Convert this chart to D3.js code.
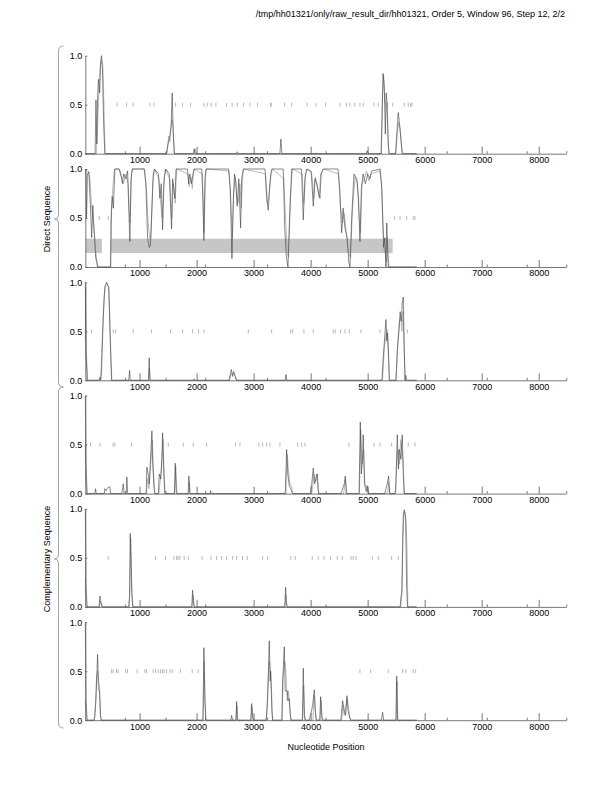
<!DOCTYPE html>
<html>
<head>
<meta charset="utf-8">
<script src="https://cdn.jsdelivr.net/npm/d3@7"></script>
<style>
  body { margin: 0; background: #fff; }
  svg { display: block; }
  text { font-family: "Liberation Sans", Arial, Helvetica, sans-serif; font-size: 9px; fill: #000; }
  .axis path, .axis line { stroke: #555; stroke-width: 0.8; }
  .axis text { fill: #000; }
</style>
</head>
<body>
<div id="chart"></div>
<script>
// ---- data ----
const titleText = "/tmp/hh01321/only/raw_result_dir/hh01321, Order 5, Window 96, Step 12, 2/2";
const xDomain = [48, 8484];
const xTickValues = [1000, 2000, 3000, 4000, 5000, 6000, 7000, 8000];
const xMinorTicks = [742, 1456, 2150, 3236, 4263, 6386, 7088, 7789, 8484];
const yTickValues = [0, 0.5, 1];
const groupLabels = ["Direct Sequence", "Complementary Sequence"];

// panel 1
const p1Dark = [[48,0],[220,0],[235,0.55],[250,0.1],[265,0.6],[280,0.76],[300,0.62],[318,0.95],[333,1.0],[350,0.85],[370,0.3],[391,0],[1470,0],[1500,0.1],[1530,0.18],[1555,0.3],[1572,0.62],[1590,0.2],[1610,0],[1940,0],[1959,0.05],[1975,0],[2700,0],[2713,0.02],[2730,0],[3460,0],[3479,0.15],[3495,0],[4975,0],[4993,0.03],[5010,0],[5235,0],[5250,0.3],[5270,0.82],[5290,0.7],[5310,0.2],[5325,0.62],[5344,0.5],[5360,0.1],[5379,0],[5490,0],[5510,0.2],[5537,0.42],[5560,0.3],[5590,0.1],[5607,0],[5860,0]];
const p1Light = [[48,0],[240,0],[265,0.3],[290,0.7],[310,0.9],[335,0.95],[355,0.9],[375,0.5],[395,0],[1480,0],[1510,0.18],[1530,0.12],[1565,0.35],[1585,0.3],[1610,0],[1960,0],[1975,0.05],[1990,0],[5240,0],[5260,0.6],[5280,0.8],[5300,0.55],[5320,0.5],[5340,0.4],[5370,0],[5495,0],[5520,0.2],[5545,0.32],[5570,0.25],[5600,0.05],[5620,0],[5860,0]];
const p1Marks = [607,772,888,1181,1251,1632,1754,1895,2128,2186,2256,2339,2526,2624,2712,2825,2935,3070,3298,3309,3544,3667,3940,4093,4263,4514,4632,4689,4777,4865,4923,5111,5186,5344,5439,5642,5712,5754,5777];

// panel 2
const p2Dark = [[48,1.0],[60,0.97],[70,0.5],[85,0.95],[110,0.97],[140,0.6],[160,0.3],[180,0.63],[200,0.4],[230,0.1],[263,0],[490,0],[500,0.5],[520,0.72],[540,0.6],[567,1.0],[640,1.0],[680,0.92],[700,0.85],[720,0.95],[760,0.9],[790,0.98],[810,0.6],[830,0.26],[850,0.9],[870,1.0],[1080,1.0],[1110,0.85],[1140,0.3],[1170,0.2],[1190,0.22],[1210,0.5],[1240,0.95],[1260,1.0],[1330,0.95],[1356,0.7],[1380,0.85],[1404,0.38],[1430,0.9],[1460,1.0],[1520,0.95],[1545,0.6],[1561,0.39],[1580,0.9],[1600,0.8],[1619,0.7],[1640,1.0],[1840,1.0],[1860,0.85],[1880,0.95],[1910,0.85],[1937,0.95],[1960,1.0],[2090,1.0],[2110,0.7],[2128,0.27],[2145,0.9],[2165,1.0],[2560,1.0],[2590,0.8],[2620,0.085],[2645,0.7],[2665,0.95],[2690,0.85],[2712,0.62],[2740,0.9],[2772,0.4],[2790,0.9],[2820,1.0],[3200,1.0],[3230,0.7],[3256,0.58],[3280,0.8],[3300,0.95],[3320,1.0],[3520,1.0],[3545,0.4],[3575,0.1],[3602,0],[3630,0.5],[3667,1.0],[3840,1.0],[3871,0.48],[3900,0.9],[3930,1.0],[4010,0.98],[4046,0.62],[4075,0.9],[4110,0.85],[4140,0.75],[4163,0.7],[4185,0.95],[4220,1.0],[4480,1.0],[4510,0.8],[4544,0.35],[4570,0.6],[4602,0.4],[4640,0.3],[4670,0.05],[4690,0],[4720,0.5],[4760,0.95],[4810,0.9],[4840,0.7],[4865,0.26],[4890,0.8],[4920,0.95],[4960,0.85],[5000,0.95],[5040,0.9],[5070,0.98],[5220,1.0],[5250,0.8],[5280,0.2],[5300,0.3],[5321,0],[5335,0.45],[5350,0.2],[5362,0],[5860,0]];
const p2Light = [[48,0.95],[70,1.0],[100,0.98],[130,0.9],[160,0.6],[190,0.45],[215,0.3],[240,0.1],[270,0],[495,0],[510,0.6],[535,0.85],[560,1.0],[650,1.0],[690,0.9],[720,0.85],[750,0.95],[800,0.85],[830,0.45],[860,0.95],[880,1.0],[1090,1.0],[1120,0.8],[1150,0.45],[1180,0.28],[1200,0.3],[1230,0.85],[1260,1.0],[1340,0.9],[1370,0.65],[1395,0.5],[1420,0.8],[1450,1.0],[1530,0.9],[1565,0.5],[1590,0.85],[1625,0.65],[1650,1.0],[1850,0.95],[1870,0.82],[1900,0.92],[1925,0.8],[1950,1.0],[2100,0.95],[2130,0.35],[2160,0.95],[2180,1.0],[2570,0.98],[2600,0.7],[2625,0.3],[2650,0.75],[2680,0.92],[2705,0.7],[2730,0.65],[2760,0.85],[2785,0.6],[2810,0.95],[2830,1.0],[3210,0.95],[3240,0.65],[3265,0.7],[3295,0.9],[3330,1.0],[3530,0.9],[3560,0.5],[3590,0.15],[3615,0.1],[3645,0.7],[3680,1.0],[3850,0.95],[3880,0.65],[3910,0.95],[3940,1.0],[4020,0.95],[4055,0.7],[4085,0.92],[4120,0.8],[4150,0.72],[4175,0.95],[4230,1.0],[4490,0.95],[4525,0.6],[4560,0.45],[4590,0.55],[4625,0.35],[4660,0.15],[4700,0.1],[4735,0.6],[4780,0.92],[4820,0.85],[4850,0.5],[4875,0.35],[4900,0.85],[4940,0.9],[4980,0.98],[5020,0.88],[5060,0.95],[5210,0.98],[5240,0.85],[5270,0.4],[5290,0.15],[5310,0.2],[5330,0.05],[5345,0.3],[5360,0.1],[5375,0],[5860,0]];
const p2Marks = [292,450,5467,5567,5684,5800,5830];
const p2Bands = [[58,339],[496,5439]];
const p2BandRange = [0.143, 0.289];

// panel 3
const p3Dark = [[48,1.0],[60,0.3],[81,0],[290,0],[304,0.03],[318,0],[333,0.1],[360,0.6],[391,0.95],[410,0.98],[421,1.0],[440,0.97],[461,0.95],[480,0.5],[509,0],[810,0],[824,0.1],[838,0],[1155,0],[1169,0.23],[1183,0],[1940,0],[1953,0.015],[1966,0],[2570,0],[2590,0.06],[2610,0.11],[2630,0.04],[2650,0.09],[2670,0.05],[2702,0],[3555,0],[3567,0.06],[3580,0],[5250,0],[5275,0.25],[5300,0.45],[5321,0.62],[5335,0.4],[5350,0.48],[5365,0.3],[5379,0],[5495,0],[5520,0.3],[5549,0.5],[5570,0.7],[5590,0.6],[5605,0.78],[5625,0.85],[5640,0.4],[5654,0],[5668,0.05],[5685,0],[5860,0]];
const p3Light = [[48,0.4],[55,0.95],[65,0.3],[90,0],[300,0],[320,0.05],[345,0.4],[375,0.85],[400,0.97],[430,0.99],[455,0.95],[475,0.7],[500,0.2],[515,0],[1160,0],[1172,0.12],[1185,0],[2580,0],[2600,0.05],[2620,0.07],[2640,0.06],[2660,0.07],[2690,0.02],[2710,0],[5260,0],[5290,0.3],[5315,0.45],[5340,0.5],[5360,0.3],[5385,0],[5500,0],[5530,0.4],[5555,0.6],[5580,0.65],[5600,0.5],[5620,0.7],[5640,0.3],[5660,0],[5860,0]];
const p3Marks = [158,537,579,888,1210,1544,1754,1930,2035,2128,2906,3316,3649,3684,3882,4046,4397,4432,4526,4602,4678,4882,5216,5344,5695];

// panel 4
const p4Dark = [[48,1.0],[60,0.3],[81,0],[215,0],[228,0.05],[240,0],[380,0],[391,0.05],[410,0.03],[440,0.06],[479,0.07],[490,0],[690,0],[702,0.06],[715,0.1],[728,0],[765,0],[777,0.17],[790,0],[1115,0],[1128,0.27],[1150,0.2],[1170,0.1],[1200,0.45],[1216,0.64],[1230,0.3],[1255,0.05],[1270,0],[1330,0],[1345,0.2],[1370,0.15],[1390,0.35],[1404,0.62],[1420,0.3],[1440,0],[1610,0],[1625,0.31],[1645,0],[1850,0],[1865,0.18],[1880,0],[2235,0],[2245,0.03],[2255,0],[3555,0],[3579,0.45],[3600,0.2],[3625,0.08],[3650,0.05],[3680,0],[3995,0],[4006,0.05],[4020,0.1],[4046,0.26],[4070,0.1],[4095,0.15],[4116,0.2],[4140,0],[4530,0],[4544,0.02],[4590,0.1],[4608,0.18],[4625,0],[4850,0],[4871,0.73],[4890,0.2],[4910,0.35],[4923,0.6],[4945,0.1],[4975,0.02],[4993,0.08],[5010,0],[5300,0],[5321,0.05],[5345,0.1],[5368,0.18],[5385,0],[5480,0],[5491,0.05],[5520,0.6],[5540,0.25],[5555,0.45],[5584,0.35],[5607,0.6],[5625,0.2],[5640,0],[5860,0]];
const p4Light = [[48,0.5],[55,0.1],[70,0],[1120,0],[1140,0.15],[1165,0.05],[1195,0.3],[1225,0.55],[1245,0.2],[1265,0],[1340,0],[1360,0.12],[1385,0.25],[1410,0.55],[1430,0.2],[1450,0],[1615,0],[1635,0.28],[1655,0],[1860,0],[1875,0.12],[1890,0],[3565,0],[3590,0.4],[3610,0.25],[3635,0.1],[3665,0.07],[3690,0],[4020,0],[4040,0.1],[4060,0.2],[4080,0.12],[4105,0.2],[4130,0.05],[4145,0],[4580,0],[4600,0.1],[4615,0.15],[4635,0],[4855,0],[4880,0.65],[4900,0.3],[4930,0.45],[4950,0.1],[5000,0.05],[5015,0],[5350,0],[5370,0.12],[5390,0],[5490,0],[5515,0.35],[5535,0.45],[5560,0.3],[5580,0.55],[5600,0.45],[5620,0.35],[5645,0],[5860,0]];
const p4Marks = [140,304,537,567,860,1503,1765,1940,2175,2684,2760,3093,3158,3228,3286,3462,3772,3842,3900,4672,5111,5216,5421,5712,5830];

// panel 5
const p5Dark = [[48,1.0],[60,0.2],[81,0],[290,0],[304,0.11],[318,0.06],[335,0.02],[350,0],[810,0],[824,0.1],[836,0.75],[850,0.5],[862,0.15],[880,0],[1915,0],[1930,0.17],[1945,0.05],[1960,0],[3545,0],[3561,0.2],[3575,0.05],[3590,0],[5570,0],[5584,0.1],[5602,0.15],[5625,0.95],[5642,0.99],[5666,0.9],[5684,0.2],[5700,0],[5860,0]];
const p5Light = [[48,0.3],[60,0],[295,0],[310,0.06],[325,0.03],[340,0],[815,0],[830,0.2],[845,0.7],[860,0.3],[875,0.05],[890,0],[1920,0],[1938,0.12],[1955,0],[3550,0],[3565,0.12],[3580,0],[5580,0],[5595,0.1],[5615,0.7],[5635,0.95],[5655,0.97],[5675,0.85],[5690,0.6],[5705,0],[5860,0]];
const p5Marks = [450,1281,1456,1602,1649,1677,1707,1782,1853,2098,2251,2351,2439,2526,2632,2702,2807,2888,3158,3246,3654,3730,4028,4133,4233,4351,4467,4554,4707,4747,4795,5081,5186,5421,5537];

// panel 6
const p6Dark = [[48,1.0],[60,0.2],[81,0],[200,0],[216,0.05],[235,0.2],[263,0.67],[280,0.4],[298,0.3],[315,0.05],[330,0],[2110,0],[2128,0.74],[2145,0.2],[2160,0],[2600,0],[2614,0.05],[2630,0],[2690,0],[2702,0.19],[2715,0],[2950,0],[2965,0.17],[2980,0.05],[2995,0],[3215,0],[3228,0.05],[3245,0.2],[3275,0.81],[3290,0.4],[3300,0.5],[3320,0.1],[3335,0],[3495,0],[3509,0.4],[3538,0.75],[3555,0.3],[3590,0.3],[3605,0.2],[3625,0.22],[3645,0.05],[3660,0],[3855,0],[3871,0.53],[3890,0.05],[3910,0],[3975,0],[3988,0.03],[4035,0.15],[4064,0.31],[4085,0.08],[4100,0],[4160,0],[4175,0.24],[4195,0.05],[4210,0],[4530,0],[4561,0.2],[4590,0.1],[4615,0.05],[4637,0.25],[4655,0.1],[4675,0.05],[4700,0],[5240,0],[5263,0.08],[5280,0],[5495,0],[5509,0.45],[5525,0],[5860,0]];
const p6Light = [[48,0.2],[60,0],[210,0],[235,0.3],[246,0.45],[263,0.5],[280,0.3],[298,0.3],[312,0.05],[325,0],[2115,0],[2135,0.6],[2150,0.2],[2165,0],[2690,0],[2710,0.15],[2725,0],[2955,0],[2972,0.14],[2990,0],[3225,0],[3257,0.45],[3280,0.6],[3300,0.45],[3315,0.3],[3330,0],[3500,0],[3520,0.45],[3545,0.6],[3565,0.5],[3590,0.2],[3610,0.3],[3630,0.15],[3650,0],[3860,0],[3878,0.35],[3895,0],[4040,0],[4060,0.25],[4080,0.1],[4095,0],[4165,0],[4185,0.2],[4200,0],[4545,0],[4565,0.15],[4590,0.05],[4640,0.22],[4660,0.15],[4690,0.02],[4710,0],[5500,0],[5515,0.4],[5530,0],[5860,0]];
const p6Marks = [509,537,596,625,754,789,958,1093,1123,1239,1281,1327,1368,1404,1432,1474,1532,1572,1719,1923,2028,4865,5053,5362,5614,5672,5800,5842];

const panels = [
    { dark: p1Dark, light: p1Light, marks: p1Marks },
    { dark: p2Dark, light: p2Light, marks: p2Marks, bands: p2Bands },
    { dark: p3Dark, light: p3Light, marks: p3Marks },
    { dark: p4Dark, light: p4Light, marks: p4Marks },
    { dark: p5Dark, light: p5Light, marks: p5Marks },
    { dark: p6Dark, light: p6Light, marks: p6Marks }
];

// ---- layout ----
const width = 612, height = 792;
const left = 85.3, right = 566.3;
const firstTop = 55.7, panelStep = 113.3, panelH = 98;

const svg = d3.select('#chart').append('svg')
    .attr('width', width)
    .attr('height', height);

// title
svg.append('text')
    .attr('x', 565)
    .attr('y', 17)
    .attr('text-anchor', 'end')
    .text(titleText);

const x = d3.scaleLinear().domain(xDomain).range([left, right]);

const line = (yScale) => d3.line()
    .x(d => x(d[0]))
    .y(d => yScale(d[1]));

panels.forEach((p, i) => {
    const top = firstTop + i * panelStep;
    const y = d3.scaleLinear().domain([0, 1]).range([top + panelH, top]);
    const g = svg.append('g').attr('class', 'panel');

    // shaded bands (panel 2)
    if (p.bands) {
        g.selectAll('rect.band')
            .data(p.bands)
            .join('rect')
            .attr('class', 'band')
            .attr('x', d => x(d[0]))
            .attr('width', d => x(d[1]) - x(d[0]))
            .attr('y', y(p2BandRange[1]))
            .attr('height', y(p2BandRange[0]) - y(p2BandRange[1]))
            .attr('fill', '#c6c6c6');
    }

    // marks on the 0.5 row
    g.selectAll('line.mark')
        .data(p.marks)
        .join('line')
        .attr('class', 'mark')
        .attr('x1', d => x(d)).attr('x2', d => x(d))
        .attr('y1', y(0.5) - 2).attr('y2', y(0.5) + 2)
        .attr('stroke', '#9a9a9a')
        .attr('stroke-width', 0.7);

    g.append('path')
        .datum(p.light)
        .attr('d', line(y))
        .attr('fill', 'none')
        .attr('stroke', '#aaaaaa')
        .attr('stroke-width', 0.8);

    g.append('path')
        .datum(p.dark)
        .attr('d', line(y))
        .attr('fill', 'none')
        .attr('stroke', '#3a3a3a')
        .attr('stroke-width', 0.6);

    // x axis: ticks point up, labels below
    const xAxisG = g.append('g')
        .attr('class', 'axis x-axis')
        .attr('transform', `translate(0, ${top + panelH})`)
        .call(d3.axisBottom(x)
            .tickValues(xTickValues)
            .tickSizeInner(-7)
            .tickSizeOuter(0)
            .tickPadding(3)
            .tickFormat(d3.format('d')));
    xAxisG.selectAll('text').attr('font-size', 9).attr('font-family', '"Liberation Sans", Arial, sans-serif');

    g.append('g')
        .attr('class', 'axis x-minor')
        .attr('transform', `translate(0, ${top + panelH})`)
        .call(d3.axisBottom(x)
            .tickValues(xMinorTicks)
            .tickSizeInner(-2.5)
            .tickSizeOuter(0)
            .tickFormat(''))
        .select('.domain').remove();

    // y axis
    const yAxisG = g.append('g')
        .attr('class', 'axis y-axis')
        .attr('transform', `translate(${left}, 0)`)
        .call(d3.axisLeft(y)
            .tickValues(yTickValues)
            .tickSizeInner(-2)
            .tickSizeOuter(0)
            .tickPadding(3)
            .tickFormat(d3.format('.1f')));
    yAxisG.selectAll('text').attr('font-size', 9).attr('font-family', '"Liberation Sans", Arial, sans-serif');
});

// group braces and labels
const braces = [
    { top: 46, bottom: 387, tip: 219 },
    { top: 387, bottom: 728, tip: 559 }
];
braces.forEach((b, i) => {
    const bx = 58.5, r = 5;
    const path = `M ${bx + r},${b.top} Q ${bx},${b.top} ${bx},${b.top + r}
        L ${bx},${b.tip - 4} Q ${bx},${b.tip} ${bx - 4},${b.tip}
        Q ${bx},${b.tip} ${bx},${b.tip + 4}
        L ${bx},${b.bottom - r} Q ${bx},${b.bottom} ${bx + r},${b.bottom}`;
    svg.append('path')
        .attr('d', path)
        .attr('fill', 'none')
        .attr('stroke', '#8c8c8c')
        .attr('stroke-width', 0.8);

    svg.append('text')
        .attr('transform', `translate(50, ${b.tip}) rotate(-90)`)
        .attr('text-anchor', 'middle')
        .text(groupLabels[i]);
});

// x axis label
svg.append('text')
    .attr('x', 326)
    .attr('y', 750)
    .attr('text-anchor', 'middle')
    .text('Nucleotide Position');
</script>
</body>
</html>
